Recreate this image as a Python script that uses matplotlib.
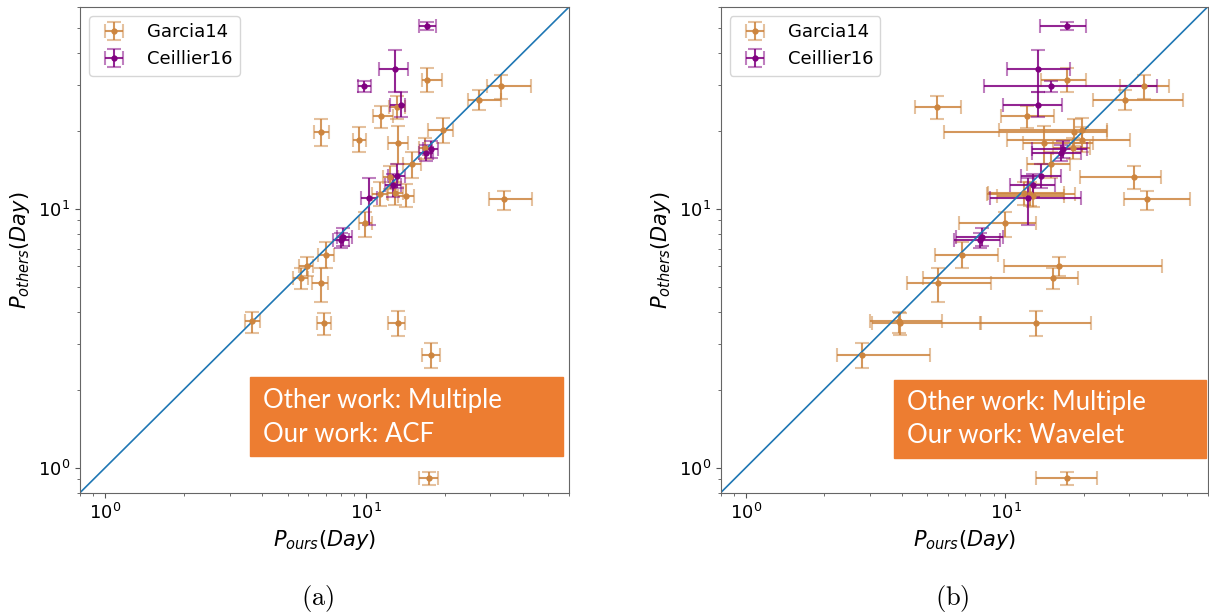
import numpy as np
import matplotlib.pyplot as plt
from matplotlib.patches import Rectangle

# Garcia14 stars: period from the literature (y) and our periods (ACF / wavelet)
garcia_p = [31.4, 29.6, 26.3, 24.6, 22.7, 19.7, 18.4, 20.1, 17.9, 17.1, 14.9, 13.2, 11.4,
            11.5, 11.2, 10.9, 8.8, 6.6, 6.0, 5.4, 5.15, 3.67, 3.61, 3.61, 2.72, 0.914]
garcia_p_lo = [3.3, 3.1, 2.2, 2.4, 2.3, 2.3, 1.9, 2.2, 3.0, 1.5, 1.8, 1.3, 1.2,
               1.2, 1.1, 1.0, 1.0, 0.7, 0.5, 0.5, 0.78, 0.37, 0.35, 0.4, 0.3, 0.057]
garcia_p_hi = [3.4, 3.2, 2.4, 2.6, 2.2, 2.5, 2.2, 2.3, 3.0, 1.6, 1.7, 1.4, 1.3,
               1.2, 1.2, 0.8, 0.9, 0.8, 0.5, 0.5, 0.74, 0.33, 0.35, 0.4, 0.3, 0.05]

garcia_acf = [17.2, 32.9, 27.0, 13.1, 11.4, 6.69, 9.4, 19.7, 13.2, 16.8, 15.0, 12.4, 11.3,
              12.9, 14.2, 33.9, 9.9, 7.02, 5.92, 5.61, 6.70, 3.64, 6.90, 13.2, 17.7, 17.5]
garcia_acf_lo = [0.8, 3.9, 2.5, 0.9, 0.8, 0.4, 0.5, 2.4, 1.1, 0.8, 1.1, 0.8, 0.8,
                 0.9, 1.0, 4.2, 0.5, 0.5, 0.37, 0.35, 0.5, 0.21, 0.4, 1.1, 1.3, 1.6]
garcia_acf_hi = [2.3, 9.9, 5.8, 1.0, 1.3, 0.5, 0.6, 1.9, 1.3, 0.9, 1.2, 0.9, 0.8,
                 0.9, 1.1, 9.3, 0.6, 0.5, 0.36, 0.4, 0.47, 0.28, 0.42, 0.9, 1.5, 1.4]

garcia_wav = [17.2, 34.3, 28.9, 5.47, 12.1, 18.3, 19.8, 19.8, 14.1, 18.2, 15.0, 31.4, 12.4,
              11.8, 12.8, 35.0, 10.0, 6.83, 16.1, 15.2, 5.50, 3.88, 3.92, 13.1, 2.79, 17.2]
garcia_wav_lo = [3.5, 6.8, 7.2, 1.0, 2.5, 12.5, 9.7, 10.4, 2.4, 3.0, 2.9, 12.0, 3.9,
                 3.2, 3.5, 6.4, 3.4, 1.5, 6.2, 10.4, 1.34, 0.88, 0.87, 5.1, 0.55, 4.1]
garcia_wav_hi = [3.3, 8.2, 19.3, 1.3, 3.3, 6.3, 10.3, 4.8, 7.6, 3.0, 2.8, 8.2, 6.1,
                 5.0, 4.0, 16.2, 3.1, 2.5, 23.9, 3.8, 3.3, 1.84, 4.1, 8.2, 2.35, 5.3]

# Ceillier16 stars
ceil_p = [50.8, 34.6, 29.6, 25.2, 17.0, 16.4, 13.3, 12.3, 11.0, 7.80, 7.57]
ceil_p_lo = [1.8, 6.3, 1.4, 2.6, 1.3, 1.2, 1.3, 1.2, 2.35, 0.6, 0.5]
ceil_p_hi = [1.9, 6.2, 1.5, 2.9, 1.3, 1.2, 1.5, 1.3, 2.1, 0.6, 0.5]

ceil_acf = [17.2, 12.9, 9.82, 13.6, 17.7, 17.0, 13.1, 12.7, 10.3, 8.14, 8.0]
ceil_acf_lo = [1.25, 1.7, 0.5, 1.2, 1.2, 1.1, 1.0, 0.9, 0.7, 0.4, 0.5]
ceil_acf_hi = [1.35, 1.6, 0.6, 0.5, 1.2, 1.1, 1.0, 0.9, 0.7, 0.7, 0.6]

ceil_wav = [17.2, 13.3, 15.0, 13.3, 16.7, 16.3, 13.7, 12.8, 12.2, 8.12, 7.95]
ceil_wav_lo = [3.6, 3.2, 6.7, 3.5, 4.1, 3.7, 2.2, 2.4, 3.45, 1.7, 1.6]
ceil_wav_hi = [3.3, 4.4, 23.4, 3.2, 3.9, 3.3, 2.7, 2.7, 7.4, 1.65, 1.6]

lims = (0.8, 60)
W, H = 1209, 614

fig = plt.figure(figsize=(W / 100, H / 100), dpi=100)
ax_a = fig.add_axes([80 / W, 1 - 492.7 / H, 489 / W, 485.7 / H])
ax_b = fig.add_axes([720.7 / W, 1 - 492.7 / H, 486.8 / W, 485.7 / H])


def plot_set(ax, x, xlo, xhi, y, ylo, yhi, color, label):
    line, caps, bars = ax.errorbar(x, y, xerr=[xlo, xhi], yerr=[ylo, yhi], fmt='o',
                                   ms=3.5, color=color, capsize=5, elinewidth=1.5,
                                   capthick=1.5, label=label)
    for c in caps:
        c.set_alpha(0.5)
    for b in bars:
        b.set_alpha(0.85)


def setup(ax):
    ax.plot(lims, lims, color='#1f77b4', lw=1.2)
    ax.set_xscale('log')
    ax.set_yscale('log')
    ax.set_xlim(lims)
    ax.set_ylim(lims)
    ax.set_xlabel(r'$P_{ours}(Day)$', fontsize=15)
    ax.set_ylabel(r'$P_{others}(Day)$', fontsize=15)
    ax.tick_params(which='both', labelsize=13, color='#555555')
    for s in ax.spines.values():
        s.set_color('#666666')
    ax.legend(loc='upper left', fontsize=13)


plot_set(ax_a, garcia_acf, garcia_acf_lo, garcia_acf_hi, garcia_p, garcia_p_lo, garcia_p_hi,
         'peru', 'Garcia14')
plot_set(ax_a, ceil_acf, ceil_acf_lo, ceil_acf_hi, ceil_p, ceil_p_lo, ceil_p_hi,
         'purple', 'Ceillier16')
setup(ax_a)

plot_set(ax_b, garcia_wav, garcia_wav_lo, garcia_wav_hi, garcia_p, garcia_p_lo, garcia_p_hi,
         'peru', 'Garcia14')
plot_set(ax_b, ceil_wav, ceil_wav_lo, ceil_wav_hi, ceil_p, ceil_p_lo, ceil_p_hi,
         'purple', 'Ceillier16')
setup(ax_b)

# orange method boxes
boxes = [(250, 377, 313, 79, 262.7, 408.3, 'ACF'),
         (894, 380, 312, 78, 906.7, 410.0, 'Wavelet')]
for x0, y0, w, h, tx, ty, method in boxes:
    fig.add_artist(Rectangle((x0 / W, 1 - (y0 + h) / H), w / W, h / H,
                             transform=fig.transFigure, color='#ED7D31'))
    fig.text(tx / W, 1 - ty / H, 'Other work: Multiple', family='Lato', color='white',
             fontsize=18.5, va='baseline')
    fig.text(tx / W, 1 - (ty + 33.4) / H, 'Our work: ' + method, family='Lato',
             color='white', fontsize=18.5, va='baseline')

fig.text(318 / W, 1 - 598 / H, r'$\mathrm{(a)}$', math_fontfamily='cm', fontsize=19,
         ha='center', va='center')
fig.text(952 / W, 1 - 598 / H, r'$\mathrm{(b)}$', math_fontfamily='cm', fontsize=19,
         ha='center', va='center')

fig.savefig('out.png', dpi=100)
